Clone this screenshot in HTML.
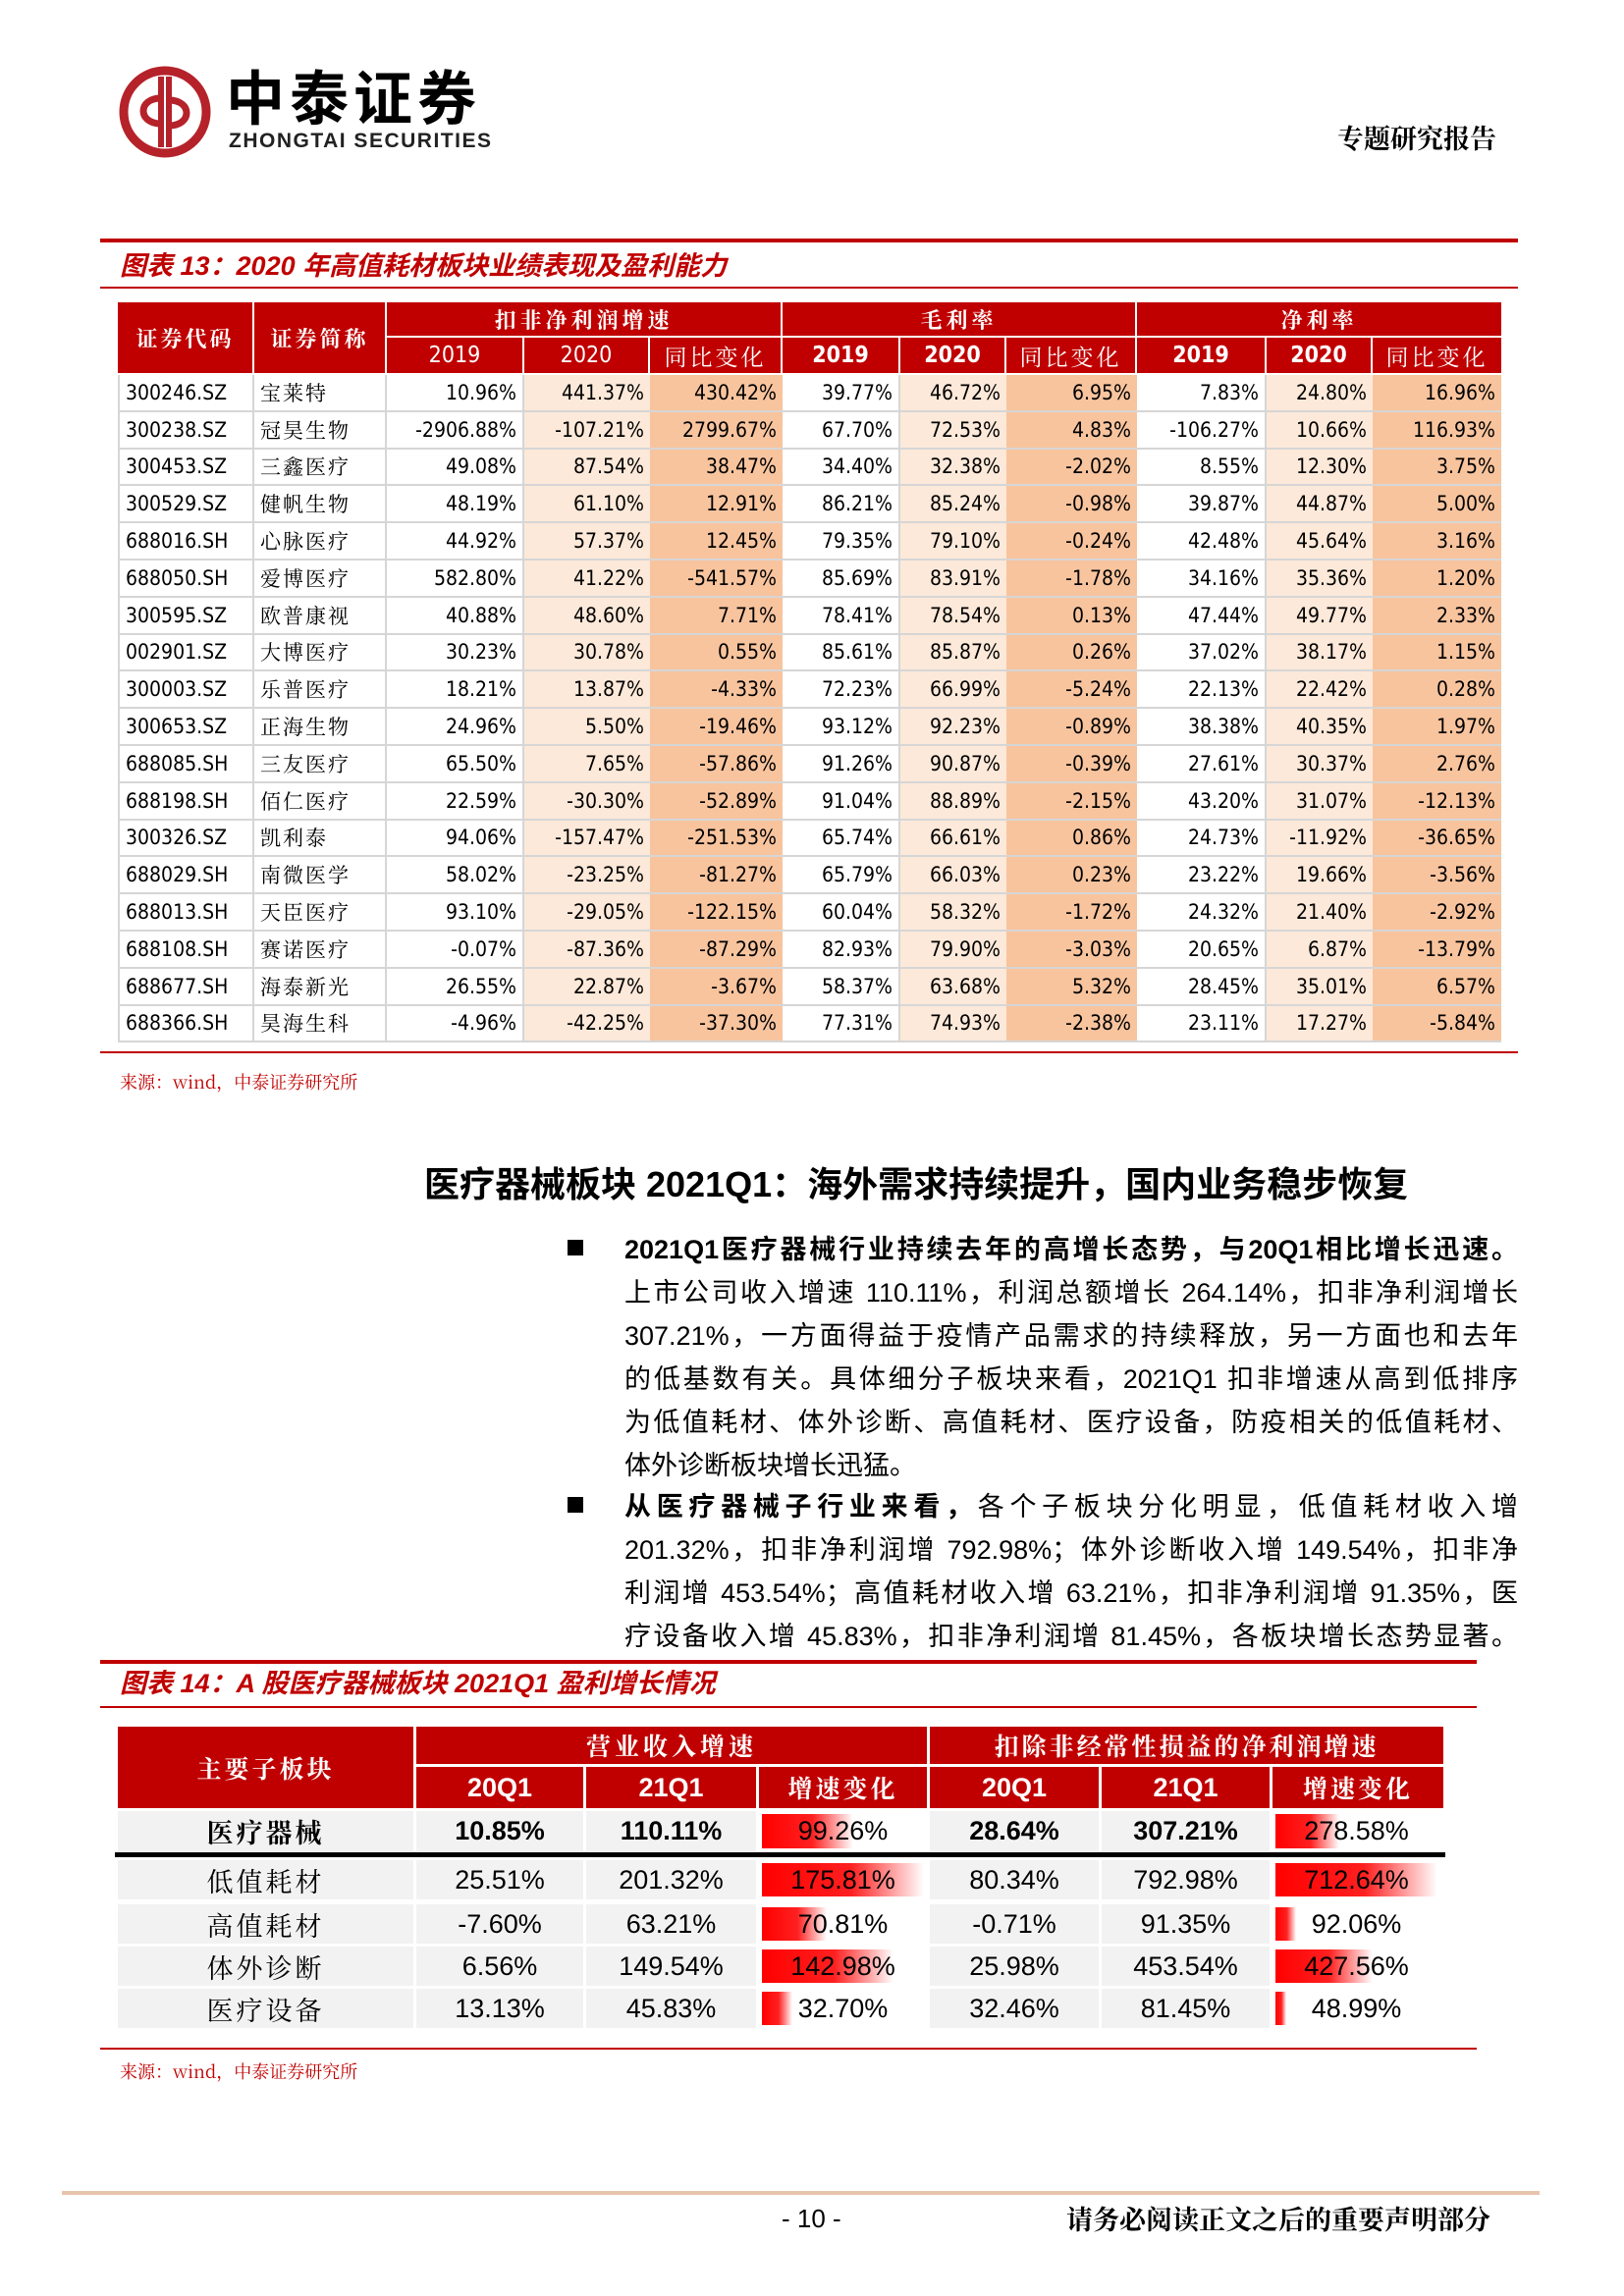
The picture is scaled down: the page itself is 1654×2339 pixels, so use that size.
<!DOCTYPE html>
<html><head><meta charset="utf-8">
<style>
*{margin:0;padding:0;box-sizing:border-box}
body{width:1654px;height:2339px;position:relative;background:#fff;font-family:"Liberation Sans","Noto Sans CJK SC",sans-serif;color:#000;overflow:hidden}
.abs{position:absolute}
.cell{position:absolute;display:flex;align-items:center;white-space:nowrap;overflow:hidden}
.line{position:absolute;left:636px;width:910px;font-size:27px;height:44px;line-height:44px;text-align:justify;text-align-last:justify;white-space:nowrap}
.b{font-weight:bold}
</style></head><body>
<!-- header -->
<div class="abs" style="left:120px;top:66px;width:96px;height:96px">
<svg width="96" height="96" viewBox="0 0 96 96"><circle cx="48" cy="48" r="42" fill="none" stroke="#b5222a" stroke-width="9"/><path d="M44 12 V84 M52 12 V84" stroke="#b5222a" stroke-width="6"/><path d="M44 34 C20 34 20 60 44 60 M52 36 C76 36 76 62 52 62" fill="none" stroke="#b5222a" stroke-width="7"/></svg></div>
<div class="abs" style="left:230px;top:64px;font-size:60px;font-weight:bold;font-family:'Noto Sans CJK SC',sans-serif;letter-spacing:5px;line-height:66px">中泰证券</div>
<div class="abs" style="left:233px;top:132px;font-size:21px;font-weight:bold;color:#222;line-height:24px;letter-spacing:1.5px">ZHONGTAI SECURITIES</div>
<div class="abs" style="left:1362px;top:122px;font-size:27px;font-weight:bold;font-family:'Noto Serif CJK SC',serif;line-height:36px">专题研究报告</div>

<!-- figure 13 -->
<div class="abs" style="left:102px;top:243px;width:1444px;height:4px;background:#c00000"></div>
<div class="abs" style="left:122px;top:253px;font-size:27px;font-weight:bold;font-style:italic;color:#c00000;line-height:36px">图表 13：2020 年高值耗材板块业绩表现及盈利能力</div>
<div class="abs" style="left:102px;top:292px;width:1444px;height:2px;background:#c00000"></div>
<div id="t13" class="abs" style="left:0;top:0"></div>
<div class="abs" style="left:102px;top:1071px;width:1444px;height:2px;background:#c00000"></div>
<div class="abs" style="left:122px;top:1090px;font-size:18px;color:#c00000;line-height:24px;font-family:'Noto Serif CJK SC',serif">来源：wind，中泰证券研究所</div>

<!-- section heading -->
<div class="abs" style="left:432px;top:1184px;font-size:36px;font-weight:bold;line-height:46px;white-space:nowrap">医疗器械板块 2021Q1：海外需求持续提升，国内业务稳步恢复</div>
<div class="abs" style="left:578px;top:1263px;width:16px;height:16px;background:#000"></div>
<div class="line b" style="top:1251px">2021Q1医疗器械行业持续去年的高增长态势，与20Q1相比增长迅速。</div>
<div class="line" style="top:1295px">上市公司收入增速 110.11%，利润总额增长 264.14%，扣非净利润增长</div>
<div class="line" style="top:1339px">307.21%，一方面得益于疫情产品需求的持续释放，另一方面也和去年</div>
<div class="line" style="top:1383px">的低基数有关。具体细分子板块来看，2021Q1 扣非增速从高到低排序</div>
<div class="line" style="top:1427px">为低值耗材、体外诊断、高值耗材、医疗设备，防疫相关的低值耗材、</div>
<div class="line" style="top:1471px;text-align-last:left">体外诊断板块增长迅猛。</div>
<div class="abs" style="left:578px;top:1525px;width:16px;height:16px;background:#000"></div>
<div class="line" style="top:1513px"><b>从医疗器械子行业来看，</b>各个子板块分化明显，低值耗材收入增</div>
<div class="line" style="top:1557px">201.32%，扣非净利润增 792.98%；体外诊断收入增 149.54%，扣非净</div>
<div class="line" style="top:1601px">利润增 453.54%；高值耗材收入增 63.21%，扣非净利润增 91.35%，医</div>
<div class="line" style="top:1645px">疗设备收入增 45.83%，扣非净利润增 81.45%，各板块增长态势显著。</div>

<!-- figure 14 -->
<div class="abs" style="left:102px;top:1691px;width:1402px;height:4px;background:#c00000"></div>
<div class="abs" style="left:122px;top:1697px;font-size:27px;font-weight:bold;font-style:italic;color:#c00000;line-height:36px">图表 14：A 股医疗器械板块 2021Q1 盈利增长情况</div>
<div class="abs" style="left:102px;top:1738px;width:1402px;height:2px;background:#c00000"></div>
<div id="t14" class="abs" style="left:0;top:0"></div>
<div class="abs" style="left:102px;top:2086px;width:1402px;height:2px;background:#c00000"></div>
<div class="abs" style="left:122px;top:2098px;font-size:18px;color:#c00000;line-height:24px;font-family:'Noto Serif CJK SC',serif">来源：wind，中泰证券研究所</div>

<!-- footer -->
<div class="abs" style="left:63px;top:2232px;width:1505px;height:4px;background:#e8c4ac"></div>
<div class="abs" style="left:796px;top:2244px;font-size:26px;line-height:32px">- 10 -</div>
<div class="abs" style="left:1086px;top:2242px;font-size:27px;font-weight:bold;line-height:36px;font-family:'Noto Serif CJK SC',serif">请务必阅读正文之后的重要声明部分</div>

<script>
// ---------- Table 13 data ----------
const codes13=["300246.SZ","300238.SZ","300453.SZ","300529.SZ","688016.SH","688050.SH","300595.SZ","002901.SZ","300003.SZ","300653.SZ","688085.SH","688198.SH","300326.SZ","688029.SH","688013.SH","688108.SH","688677.SH","688366.SH"];
const names13=["宝莱特","冠昊生物","三鑫医疗","健帆生物","心脉医疗","爱博医疗","欧普康视","大博医疗","乐普医疗","正海生物","三友医疗","佰仁医疗","凯利泰","南微医学","天臣医疗","赛诺医疗","海泰新光","昊海生科"];
const np2019=["10.96%","-2906.88%","49.08%","48.19%","44.92%","582.80%","40.88%","30.23%","18.21%","24.96%","65.50%","22.59%","94.06%","58.02%","93.10%","-0.07%","26.55%","-4.96%"];
const np2020=["441.37%","-107.21%","87.54%","61.10%","57.37%","41.22%","48.60%","30.78%","13.87%","5.50%","7.65%","-30.30%","-157.47%","-23.25%","-29.05%","-87.36%","22.87%","-42.25%"];
const npChg=["430.42%","2799.67%","38.47%","12.91%","12.45%","-541.57%","7.71%","0.55%","-4.33%","-19.46%","-57.86%","-52.89%","-251.53%","-81.27%","-122.15%","-87.29%","-3.67%","-37.30%"];
const gm2019=["39.77%","67.70%","34.40%","86.21%","79.35%","85.69%","78.41%","85.61%","72.23%","93.12%","91.26%","91.04%","65.74%","65.79%","60.04%","82.93%","58.37%","77.31%"];
const gm2020=["46.72%","72.53%","32.38%","85.24%","79.10%","83.91%","78.54%","85.87%","66.99%","92.23%","90.87%","88.89%","66.61%","66.03%","58.32%","79.90%","63.68%","74.93%"];
const gmChg=["6.95%","4.83%","-2.02%","-0.98%","-0.24%","-1.78%","0.13%","0.26%","-5.24%","-0.89%","-0.39%","-2.15%","0.86%","0.23%","-1.72%","-3.03%","5.32%","-2.38%"];
const nm2019=["7.83%","-106.27%","8.55%","39.87%","42.48%","34.16%","47.44%","37.02%","22.13%","38.38%","27.61%","43.20%","24.73%","23.22%","24.32%","20.65%","28.45%","23.11%"];
const nm2020=["24.80%","10.66%","12.30%","44.87%","45.64%","35.36%","49.77%","38.17%","22.42%","40.35%","30.37%","31.07%","-11.92%","19.66%","21.40%","6.87%","35.01%","17.27%"];
const nmChg=["16.96%","116.93%","3.75%","5.00%","3.16%","1.20%","2.33%","1.15%","0.28%","1.97%","2.76%","-12.13%","-36.65%","-3.56%","-2.92%","-13.79%","6.57%","-5.84%"];

// ---------- Table 14 data ----------
const sectors14=["医疗器械","低值耗材","高值耗材","体外诊断","医疗设备"];
const rev20Q1=["10.85%","25.51%","-7.60%","6.56%","13.13%"];
const rev21Q1=["110.11%","201.32%","63.21%","149.54%","45.83%"];
const revChg=[99.26,175.81,70.81,142.98,32.70];
const np20Q1=["28.64%","80.34%","-0.71%","25.98%","32.46%"];
const np21Q1=["307.21%","792.98%","91.35%","453.54%","81.45%"];
const npChg14=[278.58,712.64,92.06,427.56,48.99];

function mk(parent,cls,style,text){const d=document.createElement('div');d.className=cls;d.style.cssText=style;if(text!==undefined)d.textContent=text;parent.appendChild(d);return d;}

// Table 13
(function(){
 const t=document.getElementById('t13');
 const X=[120,259,394,534,662,797,917,1025,1158,1290,1398,1529];
 const RED='#c00000',hf="font-family:'Noto Serif CJK SC',serif;";
 const h0=308,h1=344,h2=382,rh=37.8;
 function hc(x0,x1,y0,y1,txt,extra,name){const d=mk(t,'cell',`left:${x0}px;top:${y0}px;width:${x1-x0-2}px;height:${y1-y0-2}px;background:${RED};color:#fff;justify-content:center;font-size:22px;${extra||''}`,txt);}
 hc(X[0],X[1],h0,h2,'证券代码',hf+'font-weight:bold;letter-spacing:3px;','header-code');
 hc(X[1],X[2],h0,h2,'证券简称',hf+'font-weight:bold;letter-spacing:3px;','header-name');
 hc(X[2],X[5],h0,h1,'扣非净利润增速',hf+'font-weight:bold;letter-spacing:4px;','header-np-growth');
 hc(X[5],X[8],h0,h1,'毛利率',hf+'font-weight:bold;letter-spacing:4px;','header-gross-margin');
 hc(X[8],X[11]+2,h0,h1,'净利率',hf+'font-weight:bold;letter-spacing:4px;','header-net-margin');
 const sub=['2019','2020','同比变化'];
 for(let g=0;g<3;g++)for(let k=0;k<3;k++){const i=2+g*3+k;const isCn=k==2;
  hc(X[i],X[i+1]+(i==10?2:0),h1,h2,sub[k],(isCn?hf+'letter-spacing:3px;':"font-family:'DejaVu Sans Condensed','Liberation Sans',sans-serif;font-weight:"+(g==0?'normal':'bold')+";")+'font-size:23px;','header-'+sub[k]);}
 const cols=[codes13,names13,np2019,np2020,npChg,gm2019,gm2020,gmChg,nm2019,nm2020,nmChg];
 const fills=['#fff','#fff','#fff','#fde9d9','#f8c49e','#fff','#fde9d9','#f8c49e','#fff','#fde9d9','#f8c49e'];
 for(let r=0;r<codes13.length;r++){const y=h2+r*rh;
  for(let c=0;c<cols.length;c++){
   const al=c<2?'flex-start':'flex-end';
   const ff=c==1?"font-family:'Noto Serif CJK SC',serif;letter-spacing:2px;":"font-family:'DejaVu Sans Condensed','Liberation Sans',sans-serif;";
   const bl=c==0?'border-left:2px solid #d6d6d6;':'';
   const d=mk(t,'cell',`left:${X[c]}px;top:${y}px;width:${X[c+1]-X[c]}px;height:${rh}px;background:${fills[c]};justify-content:${al};padding:0 6px;font-size:21px;border-bottom:2px solid #d6d6d6;border-right:${fills[c]=='#fff'?'2px solid #d6d6d6':'none'};${bl}${ff}`,cols[c][r]);
   
   
  }}
})();

// Table 14
(function(){
 const t=document.getElementById('t14');
 const X=[120,424,597,773,947,1122,1296,1470];
 const RED='#c00000',hf="font-family:'Noto Serif CJK SC',serif;";
 const h0=1759,h1=1800,h2=1845;
 function hc(x0,x1,y0,y1,txt,extra,name){const d=mk(t,'cell',`left:${x0}px;top:${y0}px;width:${x1-x0-3}px;height:${y1-y0-3}px;background:${RED};color:#fff;justify-content:center;font-size:25px;font-weight:bold;${extra||''}`,txt);}
 hc(X[0],X[1],h0,h2,'主要子板块',hf+'letter-spacing:3px;','header-sector');
 hc(X[1],X[4],h0,h1,'营业收入增速',hf+'letter-spacing:4px;','header-revenue-growth');
 hc(X[4],X[7]+3,h0,h1,'扣除非经常性损益的净利润增速',hf+'letter-spacing:3px;','header-np-growth');
 const sub=['20Q1','21Q1','增速变化'];
 for(let g=0;g<2;g++)for(let k=0;k<3;k++){const i=1+g*3+k;
  hc(X[i],X[i+1]+(i==6?3:0),h1,h2,sub[k],k==2?hf+'letter-spacing:3px;':'font-size:27px;','header-'+sub[k]);}
 const maxRev=Math.max(...revChg),maxNp=Math.max(...npChg14);
 const rowsY=[1845,1890,1935,1978,2021],rhs=[44,43,43,43,43];
 for(let r=0;r<sectors14.length;r++){const y=rowsY[r]+(r>0?5:0),h=rhs[r]-3;const bold=r==0?'font-weight:bold;':'';
  const vals=[sectors14[r],rev20Q1[r],rev21Q1[r],revChg[r].toFixed(2)+'%',np20Q1[r],np21Q1[r],npChg14[r].toFixed(2)+'%'];
  for(let c=0;c<7;c++){
   const w=X[c+1]-X[c]-3;
   const ff=c==0?hf+'letter-spacing:3px;':'';
   const d=mk(t,'cell',`left:${X[c]}px;top:${y}px;width:${w}px;height:${h}px;background:#f2f2f2;justify-content:center;font-size:27px;${bold}${ff}`);
   
   
   if(c==3||c==6){const v=c==3?revChg[r]:npChg14[r],m=c==3?maxRev:maxNp;
    const bar=mk(d,'', `position:absolute;left:3px;top:3px;bottom:3px;width:${(w-6)*v/m}px;background:linear-gradient(to right,#ff0000 0%,#ff2020 55%,#fff 100%)`);
    
    
    d.style.background='#fff';}
   const s=mk(d,'','position:relative;font-weight:'+(r==0&&c!=3&&c!=6?'bold':'normal'),vals[c]);
   
   
  }}
 const rule=mk(t,'', `position:absolute;left:117px;top:1887px;width:1355px;height:5px;background:#000`);
 
 
})();
</script>
</body></html>
